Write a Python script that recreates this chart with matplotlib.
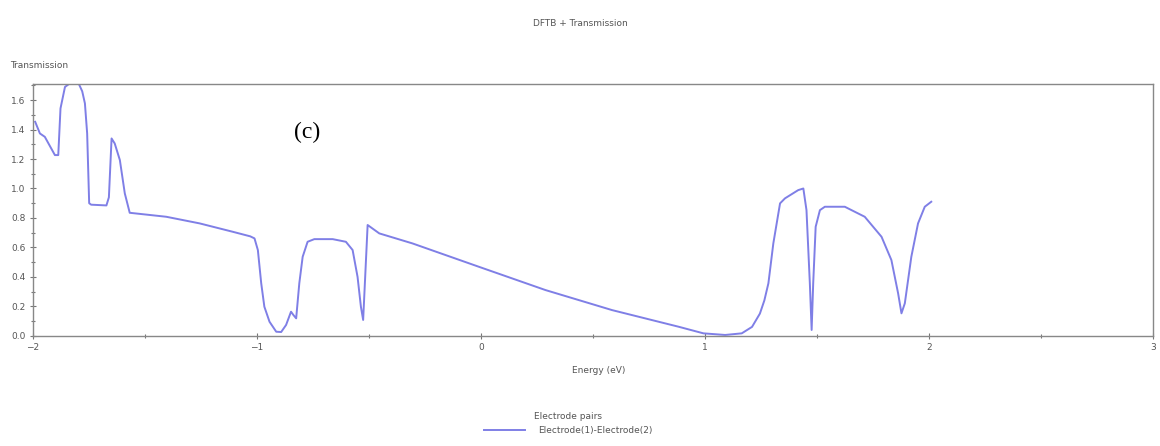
import matplotlib
matplotlib.use("Agg")
import matplotlib.pyplot as plt
from matplotlib.ticker import MultipleLocator

energy = [-1.99, -1.969, -1.947, -1.902, -1.887, -1.877, -1.857, -1.83, -1.798, -1.78, -1.768,
          -1.758, -1.749, -1.74, -1.672, -1.661, -1.649, -1.635, -1.612, -1.59, -1.568,
          -1.405, -1.256, -1.108, -1.03, -1.011, -0.996, -0.981, -0.967, -0.944, -0.914, -0.892,
          -0.87, -0.848, -0.837, -0.825, -0.811, -0.796, -0.774, -0.744, -0.662, -0.603,
          -0.573, -0.551, -0.536, -0.526, -0.506, -0.454, -0.306, -0.009, 0.288, 0.585,
          0.882, 0.993, 1.09, 1.164, 1.21, 1.245, 1.265, 1.283, 1.305, 1.335, 1.357,
          1.416, 1.439, 1.453, 1.468, 1.476, 1.483, 1.494, 1.513, 1.535, 1.624,
          1.713, 1.788, 1.832, 1.862, 1.877, 1.892, 1.921, 1.951, 1.981, 2.01]
transmission = [1.453, 1.374, 1.351, 1.227, 1.227, 1.544, 1.69, 1.72, 1.72, 1.66, 1.578,
                1.374, 0.90, 0.89, 0.885, 0.94, 1.34, 1.306, 1.193, 0.967, 0.835,
                0.808, 0.763, 0.706, 0.675, 0.661, 0.582, 0.356, 0.197, 0.095, 0.027, 0.025,
                0.073, 0.163, 0.14, 0.118, 0.356, 0.536, 0.638, 0.656, 0.656, 0.638,
                0.582, 0.40, 0.197, 0.107, 0.752, 0.695, 0.627, 0.468, 0.31, 0.174,
                0.061, 0.016, 0.005, 0.016, 0.06, 0.15, 0.24, 0.356, 0.627, 0.899, 0.933,
                0.989, 1.0, 0.853, 0.356, 0.039, 0.356, 0.74, 0.853, 0.876, 0.876,
                0.808, 0.672, 0.514, 0.288, 0.152, 0.22, 0.536, 0.763, 0.876, 0.91]

series_label = "Electrode(1)-Electrode(2)"
legend_title = "Electrode pairs"
title = "DFTB + Transmission"
x_label = "Energy (eV)"
y_label = "Transmission"

txt = "#555555"
fig = plt.figure(figsize=(11.6, 4.46), dpi=100)
ax = fig.add_axes([0.0284, 0.2473, 0.9656, 0.5644])
ax.plot(energy, transmission, color="#7f7fe6", lw=1.4, label=series_label)
ax.set_xlim(-2, 3)
ax.set_ylim(0, 1.71)
ax.xaxis.set_major_locator(MultipleLocator(1))
ax.xaxis.set_minor_locator(MultipleLocator(0.5))
ax.yaxis.set_major_locator(MultipleLocator(0.2))
ax.yaxis.set_minor_locator(MultipleLocator(0.1))
ax.yaxis.set_major_formatter(plt.FuncFormatter(lambda v, p: f"{v:.1f}"))
ax.tick_params(which="both", direction="inout", colors="#777777", labelsize=6.5,
               labelcolor=txt, width=0.8)
ax.tick_params(which="major", length=4)
ax.tick_params(which="minor", length=3)
for s in ax.spines.values():
    s.set_color("#888888")
    s.set_linewidth(1.0)

fig.text(0.5, 0.948, title, ha="center", va="center", fontsize=6.5, color=txt)
fig.text(0.009, 0.853, y_label, ha="left", va="center", fontsize=6.5, color=txt)
fig.text(0.516, 0.17, x_label, ha="center", va="center", fontsize=6.5, color=txt)
ax.text(-0.775, 1.38, "(c)", fontsize=17, family="Liberation Serif", color="black",
        ha="center", va="center")

leg = fig.legend(loc="center", bbox_to_anchor=(0.49, 0.05), frameon=False,
                 title=legend_title, fontsize=6.5, title_fontsize=6.5,
                 handlelength=4.5, handletextpad=1.5)
for t in leg.get_texts():
    t.set_color(txt)
leg.get_title().set_color(txt)

fig.savefig("out.png", dpi=100, facecolor="white")
